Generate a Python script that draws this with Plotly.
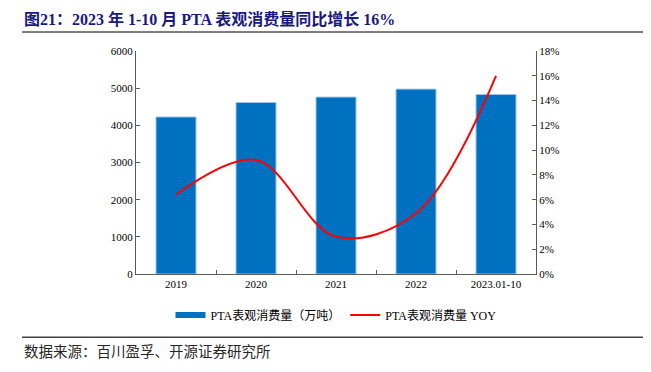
import plotly.graph_objects as go

categories = ["2019", "2020", "2021", "2022", "2023.01-10"]
consumption = [4225, 4615, 4760, 4975, 4830]
yoy = [6.4, 9.2, 3.0, 4.9, 16.0]
left_ticks = [0, 1000, 2000, 3000, 4000, 5000, 6000]
right_ticks = [0, 2, 4, 6, 8, 10, 12, 14, 16, 18]
right_labels = [f"{v}%" for v in right_ticks]

FONT = "Liberation Serif, Times New Roman, Noto Sans CJK SC, serif"
AX = "#595959"
OFF = 8  # default page body margin
W, H = 651, 372
PW, PH = 400, 223
L, T = 136 - OFF, 51 - OFF


def px_x(x):
    return (x - OFF - L) / PW


def px_y(y):
    return 1 - (y - OFF - T) / PH


fig = go.Figure()
fig.add_trace(go.Bar(
    x=categories, y=consumption, name="PTA表观消费量（万吨）",
    marker=dict(color="#0070C0", line=dict(color="#9DC3E6", width=1)),
    width=0.5, yaxis="y", showlegend=False,
))
# legend proxy for the bar series (wide flat box like the reference)
fig.add_trace(go.Scatter(
    x=[None], y=[None], name="PTA表观消费量（万吨）", mode="lines",
    line=dict(color="#0070C0", width=6), yaxis="y", showlegend=True,
))
fig.add_trace(go.Scatter(
    x=categories, y=yoy, name="PTA表观消费量 YOY",
    mode="lines", line=dict(color="#FF0000", width=2, shape="spline", smoothing=1.0),
    yaxis="y2",
))

fig.update_layout(
    template="none",
    width=W, height=H,
    margin=dict(l=L, r=W - L - PW, t=T, b=H - T - PH, autoexpand=False),
    paper_bgcolor="white", plot_bgcolor="white",
    font=dict(family=FONT, size=11, color="#000000"),
    showlegend=True,
    legend=dict(orientation="h", x=0.5, xanchor="center", y=px_y(315), yanchor="middle",
                font=dict(family=FONT, size=12), itemwidth=30, traceorder="normal",
                bgcolor="rgba(0,0,0,0)"),
    xaxis=dict(type="category", showline=True, linecolor=AX, linewidth=1,
               ticks="inside", tickson="boundaries", ticklen=4, tickcolor=AX,
               showgrid=False, tickfont=dict(size=11), automargin=False),
    yaxis=dict(range=[0, 6000], tickvals=left_ticks, showline=True, linecolor=AX,
               ticks="inside", ticklen=4, tickcolor=AX, showgrid=False,
               zeroline=False, tickfont=dict(size=11), automargin=False),
    yaxis2=dict(range=[0, 18], tickvals=right_ticks, ticktext=right_labels, overlaying="y",
                side="right", showline=True, linecolor=AX, ticks="inside",
                ticklen=4, tickcolor=AX, showgrid=False, zeroline=False,
                tickfont=dict(size=11), automargin=False),
    bargap=0.5,
)

fig.add_annotation(
    text="<b>图21：2023 年 1-10 月 PTA 表观消费量同比增长 16%</b>",
    xref="paper", yref="paper", x=px_x(22), y=px_y(19),
    xanchor="left", yanchor="middle", showarrow=False,
    font=dict(family=FONT, size=16, color="#1A1A7E"),
)
fig.add_annotation(
    text="数据来源：百川盈孚、开源证券研究所",
    xref="paper", yref="paper", x=px_x(22), y=px_y(352),
    xanchor="left", yanchor="middle", showarrow=False,
    font=dict(family=FONT, size=14.5, color="#262626"),
)

# horizontal rules under the title and above the source note
for y_px, color, thick in [(32, "#7F7F7F", 2), (337, "#404040", 1)]:
    fig.add_shape(type="line", xref="paper", yref="paper",
                  x0=px_x(22), x1=px_x(645), y0=px_y(y_px), y1=px_y(y_px),
                  line=dict(color=color, width=thick))
    fig.add_annotation(
        text=" ", xref="paper", yref="paper", x=px_x(22), y=px_y(y_px),
        xanchor="left", yanchor="middle", showarrow=False,
        width=623, height=thick, bgcolor=color, borderpad=0, borderwidth=0,
        font=dict(size=1),
    )

fig.write_html("out.html")
